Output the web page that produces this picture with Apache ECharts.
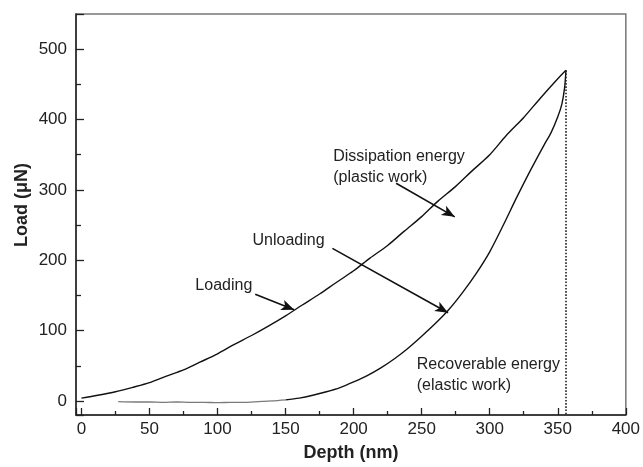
<!DOCTYPE html>
<html>
<head>
<meta charset="utf-8">
<script src="https://cdn.jsdelivr.net/npm/echarts@6/dist/echarts.min.js"></script>
<style>html,body{margin:0;padding:0;background:#fff;}#c{width:643px;height:467px;}</style>
</head>
<body>
<div id="c"></div>
<script>
// ---- data ----
const xTicks = [0, 50, 100, 150, 200, 250, 300, 350, 400];
const xMinorTicks = [25, 75, 125, 175, 225, 275, 325, 375];
const yTicks = [0, 100, 200, 300, 400, 500];
const yMinorTicks = [50, 150, 250, 350, 450];

const loadingDepth = [0, 12, 25, 37, 50, 62, 75, 87, 100, 112, 125, 137, 150, 162, 175, 187, 200, 212, 225, 237, 250, 262, 275, 287, 300, 312, 325, 337, 350, 356];
const loadingLoad  = [4, 8, 13, 19, 26, 35, 44, 55, 67, 80, 93, 106, 121, 136, 152, 168, 185, 203, 221, 241, 262, 284, 305, 327, 350, 377, 403, 430, 458, 470];

const unloadDepth = [356, 355, 353, 350, 345, 340, 330, 320, 310, 300, 290, 280, 270, 260, 250, 240, 230, 220, 210, 200, 190, 180, 170, 160, 150];
const unloadLoad  = [470, 445, 422, 404, 381, 364, 328, 290, 250, 212, 181, 154, 130, 110, 92, 75, 60, 47, 36, 27, 19, 13, 8, 4, 1.5];

const tailDepth = [150, 140, 130, 120, 110, 100, 90, 80, 70, 60, 50, 40, 27];
const tailLoad  = [1.5, 0, -1, -2, -2, -2.5, -2, -2, -1.5, -2, -1.5, -1.5, -1];

const peakDepth = 356, peakLoad = 470;
const xRange = [-4, 400];
const yRange = [-20, 550];

const notes = [
  {text: 'Dissipation energy\n(plastic work)', x: 185, y: 348},
  {text: 'Unloading', x: 125.7, y: 228},
  {text: 'Loading', x: 83.7, y: 165},
  {text: 'Recoverable energy\n(elastic work)', x: 246.4, y: 52.5}
];
const arrows = [
  {from: [127.7, 151.8], to: [156.3, 129.5]},
  {from: [184.4, 216.9], to: [269.4, 125.3]},
  {from: [231.2, 309.5], to: [274.3, 261.7]}
];

const zip = (a, b) => a.map((v, i) => [v, b[i]]);
const FONT = 'Liberation Sans, Arial, sans-serif';
const chart = echarts.init(document.getElementById('c'), null, {renderer: 'canvas'});

const tickStyle = {color: '#222', width: 1.3};

chart.setOption({
  animation: false,
  backgroundColor: '#fff',
  grid: {left: 76, right: 15, top: 14, bottom: 45, show: true, borderColor: '#777', borderWidth: 1.5},
  xAxis: [
    {
      type: 'value', min: xRange[0], max: xRange[1], splitNumber: 8, position: 'bottom',
      splitLine: {show: false}, minorTick: {show: false},
      name: 'Depth (nm)', nameLocation: 'middle', nameGap: 29,
      nameTextStyle: {fontFamily: FONT, fontSize: 18, fontWeight: 'bold', color: '#222'},
      axisLine: {show: true, onZero: false, lineStyle: {color: '#222', width: 1.5}},
      axisTick: {show: true, inside: true, length: 7, lineStyle: tickStyle},
      axisLabel: {show: true, customValues: xTicks, margin: 6, fontFamily: FONT, fontSize: 17, color: '#222'}
    },
    {
      type: 'value', min: xRange[0], max: xRange[1], position: 'bottom',
      splitLine: {show: false}, minorTick: {show: false},
      axisLine: {show: false, onZero: false},
      axisTick: {show: true, inside: true, length: 4, customValues: xMinorTicks, lineStyle: tickStyle},
      axisLabel: {show: false}
    }
  ],
  yAxis: [
    {
      type: 'value', min: yRange[0], max: yRange[1], splitNumber: 5, position: 'left',
      splitLine: {show: false}, minorTick: {show: false},
      axisLine: {show: true, onZero: false, lineStyle: {color: '#222', width: 1.5}},
      axisTick: {show: true, inside: true, length: 8, lineStyle: tickStyle},
      axisLabel: {show: true, customValues: yTicks, margin: 9, fontFamily: FONT, fontSize: 17, color: '#222'}
    },
    {
      type: 'value', min: yRange[0], max: yRange[1], position: 'left', offset: 0,
      splitLine: {show: false}, minorTick: {show: false},
      axisLine: {show: false, onZero: false},
      axisTick: {show: true, inside: true, length: 5, customValues: yMinorTicks, lineStyle: tickStyle},
      axisLabel: {show: false}
    }
  ],
  series: [
    {
      type: 'line', name: 'Loading', data: zip(loadingDepth, loadingLoad),
      xAxisIndex: 0, yAxisIndex: 0, symbol: 'none', smooth: 0.3,
      lineStyle: {color: '#111', width: 1.4},
      markLine: {
        silent: true, symbol: ['none', 'none'], label: {show: false},
        lineStyle: {type: 'dotted', color: '#222', width: 1.6},
        data: [[{coord: [peakDepth, peakLoad]}, {coord: [peakDepth, yRange[0]]}]]
      }
    },
    {
      type: 'line', name: 'Unloading', data: zip(unloadDepth, unloadLoad),
      xAxisIndex: 0, yAxisIndex: 0, symbol: 'none', smooth: 0.3,
      lineStyle: {color: '#111', width: 1.4},
      markLine: {
        silent: true, symbol: ['none', 'arrow'], symbolSize: [8, 13], label: {show: false},
        lineStyle: {type: 'solid', color: '#111', width: 1.6},
        data: arrows.map(a => [{coord: a.from}, {coord: a.to}])
      }
    },
    {
      type: 'line', name: 'Tail', data: zip(tailDepth, tailLoad),
      xAxisIndex: 0, yAxisIndex: 0, symbol: 'none', smooth: 0.3,
      lineStyle: {color: '#7a7a7a', width: 1.3}
    }
  ]
});

const graphics = notes.map(n => {
  const p = chart.convertToPixel({xAxisIndex: 0, yAxisIndex: 0}, [n.x, n.y]);
  return {
    type: 'text', x: p[0], y: p[1] - 10,
    style: {text: n.text, fontFamily: FONT, fontSize: 16, fill: '#222', lineHeight: 21,
            textAlign: 'left', textVerticalAlign: 'top'}
  };
});
graphics.push({
  type: 'text', x: 22, y: 205, rotation: Math.PI / 2,
  style: {text: 'Load (\u03bcN)', fontFamily: FONT, fontSize: 18, fontWeight: 'bold', fill: '#222',
          textAlign: 'center', textVerticalAlign: 'middle'}
});
chart.setOption({graphic: graphics});
</script>
</body>
</html>
